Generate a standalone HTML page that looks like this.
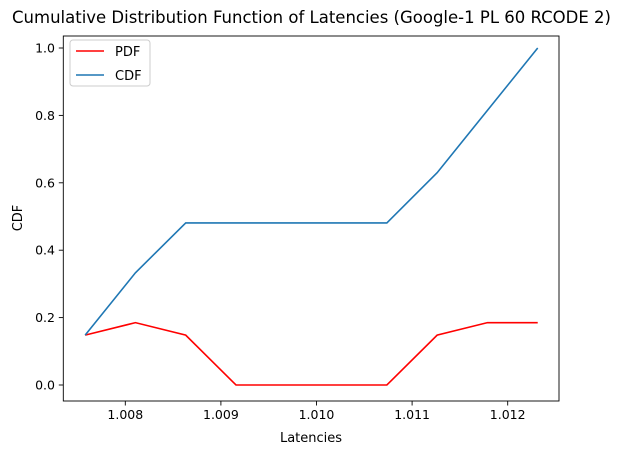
<!DOCTYPE html>
<html><head><meta charset="utf-8"><style>
body{margin:0;background:#fff;}
svg text{font-family:"DejaVu Sans","Liberation Sans",sans-serif;}
</style></head><body>
<svg id="chart" width="622" height="455" xmlns="http://www.w3.org/2000/svg">
<rect width="622" height="455" fill="#fff"/>
<text x="311.5" y="23" font-size="16.5" text-anchor="middle">Cumulative Distribution Function of Latencies (Google-1 PL 60 RCODE 2)</text>
<g id="grid"></g>
<g id="marks"></g>
<rect x="63.3" y="36" width="495.7" height="365" fill="none" stroke="#000" stroke-width="0.9"/>
<text x="311" y="442" font-size="13" text-anchor="middle">Latencies</text>
<text transform="translate(22,218) rotate(-90)" font-size="13" text-anchor="middle">CDF</text>
<g>
<rect x="70" y="40" width="80" height="46" rx="3" fill="#fff" stroke="#ccc"/>
<line x1="76" y1="51" x2="104" y2="51" stroke="red" stroke-width="1.6"/>
<text x="115" y="56" font-size="13">PDF</text>
<line x1="76" y1="75" x2="104" y2="75" stroke="#1f77b4" stroke-width="1.6"/>
<text x="115" y="80" font-size="13">CDF</text>
</g>
</svg>
<script>
const latencies=[1.00758,1.008106,1.008632,1.009158,1.009684,1.01021,1.010736,1.011262,1.011788,1.012314];
const pdfValues=[0.148,0.185,0.148,0,0,0,0,0.148,0.185,0.185];
const cdfValues=[0.148,0.333,0.481,0.481,0.481,0.481,0.481,0.630,0.815,1.0];
const xTicks=[1.008,1.009,1.010,1.011,1.012];
const yTicks=[0,0.2,0.4,0.6,0.8,1.0];
const NS="http://www.w3.org/2000/svg";
const xs=v=>125.3+(v-1.008)*95600;
const ys=v=>385-v*337;
const g=document.getElementById('grid'),m=document.getElementById('marks');
function mk(t,a,p){const e=document.createElementNS(NS,t);for(const k in a)e.setAttribute(k,a[k]);p.appendChild(e);return e;}
xTicks.forEach(t=>{
  const l=mk('line',{x1:xs(t),x2:xs(t),y1:401,y2:405.5,stroke:'#000','stroke-width':0.9},g);
  
  
  const tx=mk('text',{x:xs(t),y:419,'font-size':12.5,'text-anchor':'middle'},g);
  tx.textContent=t.toFixed(3);
  
  
});
yTicks.forEach(t=>{
  const l=mk('line',{x1:58.8,x2:63.3,y1:ys(t),y2:ys(t),stroke:'#000','stroke-width':0.9},g);
  
  
  const tx=mk('text',{x:55,y:ys(t)+4.5,'font-size':12.5,'text-anchor':'end'},g);
  tx.textContent=t.toFixed(1);
  
  
});
function line(vals,color,name){
  const p=mk('polyline',{points:latencies.map((x,i)=>xs(x)+','+ys(vals[i])).join(' '),fill:'none',stroke:color,'stroke-width':1.6},m);
  
  
}
line(pdfValues,'red','pdf-line');
line(cdfValues,'#1f77b4','cdf-line');
</script>
</body></html>
